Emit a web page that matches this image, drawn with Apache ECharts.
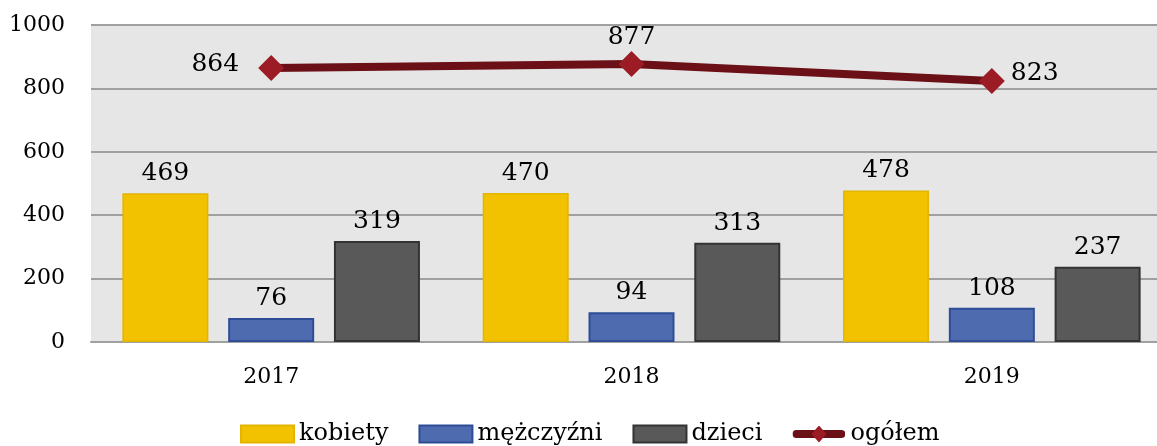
<!DOCTYPE html>
<html><head><meta charset="utf-8">
<script src="https://cdn.jsdelivr.net/npm/echarts@6/dist/echarts.min.js"></script>
<style>html,body{margin:0;padding:0;background:#fff;overflow:hidden}#c{width:1157px;height:446px}</style>
</head><body><div id="c"></div>
<script>
const categories = ['2017', '2018', '2019'];
const kobiety = [469, 470, 478];
const mezczyzni = [76, 94, 108];
const dzieci = [319, 313, 237];
const ogolem = [864, 877, 823];
const yTicks = [0, 200, 400, 600, 800, 1000];

const FONT = 'DejaVu Serif';
const FS = 25;
const lineIcon = 'image://data:image/svg+xml;utf8,' + encodeURIComponent(
  '<svg xmlns="http://www.w3.org/2000/svg" width="53" height="17" viewBox="0 0 53 17">' +
  '<line x1="4" y1="8.5" x2="49" y2="8.5" stroke="#6b1016" stroke-width="8" stroke-linecap="round"/>' +
  '<polygon points="26.5,0 34,8.5 26.5,17 19,8.5" fill="#9b1c24"/></svg>');
const chart = echarts.init(document.getElementById('c'));
const barLabel = {show: true, position: 'top', distance: 7, color: '#000', fontFamily: FONT, fontSize: FS};
chart.setOption({
  animation: false,
  textStyle: {fontFamily: FONT},
  grid: {left: 91, width: 1081, top: 25, bottom: 104, show: true, backgroundColor: '#e6e6e6', borderWidth: 0,
         outerBoundsMode: 'none', containLabel: false},
  legend: {
    top: 417, left: 235, itemWidth: 53, itemHeight: 17, itemGap: 30,
    textStyle: {fontFamily: FONT, fontSize: 24, color: '#000'},
    data: [{name: 'kobiety', icon: 'rect'}, {name: 'mężczyźni', icon: 'rect'},
           {name: 'dzieci', icon: 'rect'}, {name: 'ogółem', icon: lineIcon}]
  },
  xAxis: {
    type: 'category', data: categories,
    axisLine: {show: true, lineStyle: {color: '#a0a0a0', width: 2}},
    axisTick: {show: false},
    axisLabel: {color: '#000', fontFamily: FONT, fontSize: 22, margin: 24}
  },
  yAxis: {
    type: 'value', min: 0, max: 1000, interval: 200,
    axisLine: {show: false}, axisTick: {show: false},
    splitLine: {lineStyle: {color: '#a0a0a0', width: 2}},
    axisLabel: {color: '#000', fontFamily: FONT, fontSize: 22, margin: 26,
      formatter: v => yTicks.includes(v) ? String(v) : ''}
  },
  series: [
    {name: 'kobiety', type: 'bar', data: kobiety, barWidth: 86, barGap: '23%',
     itemStyle: {color: '#f2c200', borderColor: '#e3b400', borderWidth: 1.5}, label: barLabel},
    {name: 'mężczyźni', type: 'bar', data: mezczyzni, barWidth: 86, barGap: '23%',
     itemStyle: {color: '#4f6baf', borderColor: '#2f4d96', borderWidth: 2}, label: barLabel},
    {name: 'dzieci', type: 'bar', data: dzieci, barWidth: 86, barGap: '23%',
     itemStyle: {color: '#595959', borderColor: '#333333', borderWidth: 2}, label: barLabel},
    {name: 'ogółem', type: 'line', data: ogolem.map((v, i) => ({
        value: v,
        label: {position: ['left', 'top', 'right'][i], distance: [19, 1, 6][i],
                offset: [[0, -4], [0, 0], [0, -8]][i]}
      })),
     symbol: 'diamond', symbolSize: 26,
     lineStyle: {color: '#6b1016', width: 8, cap: 'round'},
     itemStyle: {color: '#9b1c24'},
     label: {show: true, color: '#000', fontFamily: FONT, fontSize: FS},
     z: 5}
  ]
});
</script></body></html>
